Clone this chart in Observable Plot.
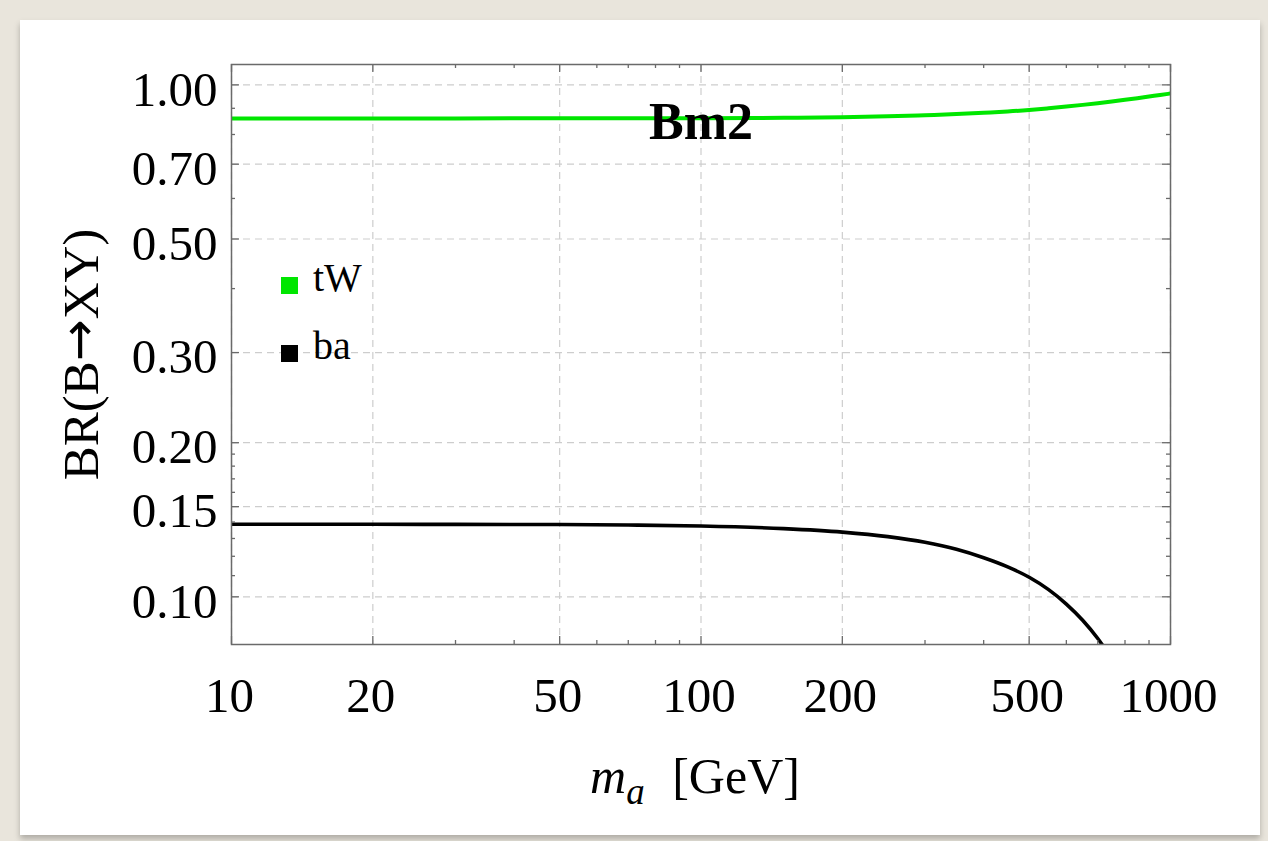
<!DOCTYPE html>
<html>
<head>
<meta charset="utf-8">
<script src="https://cdn.jsdelivr.net/npm/d3@7"></script>
<script src="https://cdn.jsdelivr.net/npm/@observablehq/plot@0.6"></script>
<style>
  html, body { margin: 0; padding: 0; }
  body { width: 1268px; height: 841px; position: relative; overflow: hidden;
         background: #e9e5dc; font-family: "Liberation Serif", "Times New Roman", serif; }
  #card { position: absolute; left: 20px; top: 20px; width: 1240px; height: 815px; background: #fff;
          box-shadow: 0 4px 6px rgba(0,0,0,0.25); }
  #chart { position: absolute; left: 0; top: 0; }
  .leg { position: absolute; font-size: 40px; line-height: 40px; color: #000; white-space: nowrap; }
  .sw { position: absolute; width: 17px; height: 17px; }
  #xlabel { position: absolute; left: 675px; top: 731px; transform: translateX(-50%);
            font-size: 50px; line-height: 50px; white-space: nowrap; color: #000; }
</style>
</head>
<body>
<div id="card">
  <div id="chart"></div>
  <div class="sw" id="sw0"></div><div class="leg" id="lg0"></div>
  <div class="sw" id="sw1"></div><div class="leg" id="lg1"></div>
  <div id="xlabel"><i>m</i><span style="position:relative;top:0.3em;font-size:0.74em;font-style:italic;">a</span><span style="display:inline-block;width:0.55em"></span>[GeV]</div>
</div>
<script>
// ---- data ----
const massGeV = [10, 20, 30, 50, 70, 100, 150, 200, 250, 300, 350, 400, 450, 500, 550, 600, 650, 700, 750, 800, 850, 900, 950, 1000];
const brTW    = [0.860, 0.860, 0.860, 0.8603, 0.8606, 0.861, 0.8625, 0.8645, 0.868, 0.8725, 0.877, 0.882, 0.887, 0.893, 0.900, 0.907, 0.914, 0.921, 0.928, 0.935, 0.942, 0.949, 0.9555, 0.962];
const massBa  = [10, 20, 30, 50, 70, 100, 150, 200, 250, 300, 350, 400, 450, 500, 550, 600, 650, 700, 750];
const brBa    = [0.1386, 0.1386, 0.1385, 0.1384, 0.1381, 0.1375, 0.1359, 0.1338, 0.1311, 0.1278, 0.1238, 0.1192, 0.1144, 0.1092, 0.1033, 0.0968, 0.0900, 0.0829, 0.0756];
const seriesNames  = ["tW", "ba"];
const seriesColors = ["#00e600", "#000000"];
const xTickLabels = [10, 20, 50, 100, 200, 500, 1000];
const xMinorTicks = [30, 40, 60, 70, 80, 90, 300, 400, 600, 700, 800, 900];
const yTickLabels = [0.10, 0.15, 0.20, 0.30, 0.50, 0.70, 1.00];
const yMinorTicks = [0.11, 0.12, 0.13, 0.14, 0.16, 0.17, 0.18, 0.19, 0.4, 0.6, 0.8, 0.9];
const panelTitle = "Bm2";
const yLabel = "BR(B\u2192XY)";

// ---- layout ----
const W = 1240, H = 815;
const mL = 211, mR = 90, mT = 44, mB = 191;
const fH = H - mT - mB, fW = W - mL - mR;
const majorLen = 8, minorLen = 4;
const frameColor = "#6a6a6a";
const gridStyle = {stroke: "#cdcdcd", strokeOpacity: 1, strokeWidth: 1.2, strokeDasharray: "7,5"};

const tw = massGeV.map((m, i) => ({m, v: brTW[i]}));
const ba = massBa.map((m, i) => ({m, v: brBa[i]}));

const chart = Plot.plot({
  width: W, height: H,
  marginLeft: mL, marginRight: mR, marginTop: mT, marginBottom: mB,
  style: {background: "transparent", fontFamily: "Liberation Serif, serif", color: "#000", overflow: "visible"},
  x: {type: "log", domain: [10, 1000]},
  y: {type: "log", domain: [0.0807, 1.096]},
  marks: [
    Plot.gridX(xTickLabels, gridStyle),
    Plot.gridY(yTickLabels, gridStyle),
    Plot.line(tw, {x: "m", y: "v", stroke: seriesColors[0], strokeWidth: 4, curve: "monotone-x", clip: true}),
    Plot.line(ba, {x: "m", y: "v", stroke: seriesColors[1], strokeWidth: 3.6, curve: "monotone-x", clip: true}),
    // inward ticks on all four sides
    Plot.ruleX(xTickLabels, {x: d => d, insetTop: fH - majorLen, stroke: frameColor, strokeWidth: 1.3}),
    Plot.ruleX(xTickLabels, {x: d => d, insetBottom: fH - majorLen, stroke: frameColor, strokeWidth: 1.3}),
    Plot.ruleX(xMinorTicks, {x: d => d, insetTop: fH - minorLen, stroke: frameColor, strokeWidth: 1.3}),
    Plot.ruleX(xMinorTicks, {x: d => d, insetBottom: fH - minorLen, stroke: frameColor, strokeWidth: 1.3}),
    Plot.ruleY(yTickLabels, {y: d => d, insetRight: fW - majorLen, stroke: frameColor, strokeWidth: 1.3}),
    Plot.ruleY(yTickLabels, {y: d => d, insetLeft: fW - majorLen, stroke: frameColor, strokeWidth: 1.3}),
    Plot.ruleY(yMinorTicks, {y: d => d, insetRight: fW - minorLen, stroke: frameColor, strokeWidth: 1.3}),
    Plot.ruleY(yMinorTicks, {y: d => d, insetLeft: fW - minorLen, stroke: frameColor, strokeWidth: 1.3}),
    Plot.frame({stroke: frameColor, strokeWidth: 1.5}),
    Plot.axisX(xTickLabels, {anchor: "bottom", tickSize: 0, tickPadding: 33, fontSize: 49, dx: -2,
                             tickFormat: d => String(d), label: null}),
    Plot.axisY(yTickLabels, {anchor: "left", tickSize: 0, tickPadding: 14, fontSize: 49, dy: 5,
                             tickFormat: d => d.toFixed(2), label: yLabel, labelAnchor: "center",
                             labelOffset: 170, labelArrow: "none"}),
    Plot.text([panelTitle], {frameAnchor: "top", lineAnchor: "middle", dy: 58, text: d => d, fontSize: 52,
                             fontWeight: "bold", fontFamily: "Liberation Serif, serif", fill: "#000"})
  ]
});
document.getElementById("chart").appendChild(chart);

// y label: larger arrow glyph, as in the original
d3.select(chart).selectAll("text").filter(function () { return this.textContent === yLabel; })
  .each(function () {
    const t = d3.select(this);
    t.attr("font-size", 51).text(null);
    t.append("tspan").text("BR(B");
    t.append("tspan").attr("font-family", "DejaVu Sans").attr("font-size", 50).attr("dy", "-0.04em").text("\u2192");
    t.append("tspan").attr("dy", "0.04em").text("XY)");
  });

// legend (HTML, positioned inside the card)
const legendTops = [[257, 238], [325, 306]];
seriesNames.forEach((name, i) => {
  const sw = document.getElementById("sw" + i);
  sw.style.background = seriesColors[i];
  sw.style.left = "261px";
  sw.style.top = legendTops[i][0] + "px";
  const lg = document.getElementById("lg" + i);
  lg.textContent = name;
  lg.style.left = "293px";
  lg.style.top = legendTops[i][1] + "px";
});
</script>
</body>
</html>
